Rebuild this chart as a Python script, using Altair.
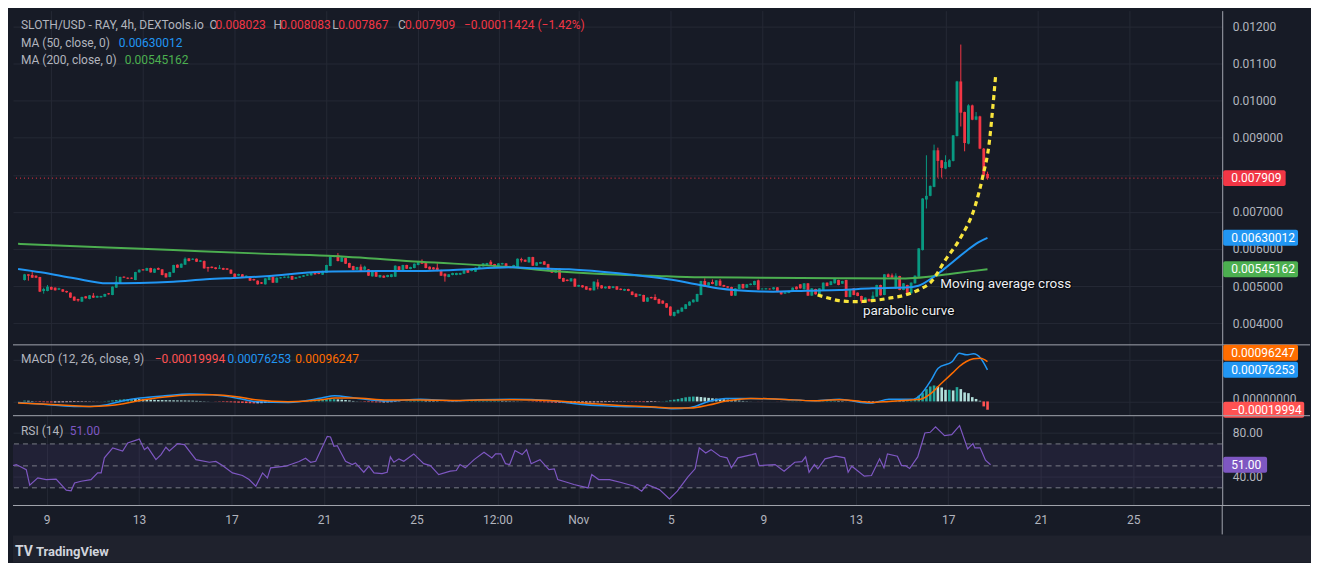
import altair as alt
import pandas as pd

# ---------------------------------------------------------------------------
# DATA  (prices are given in millionths of a US dollar: 5164 -> 0.005164)
# time axis: day of October (Nov 1 == 32), one candle every 4 hours
# ---------------------------------------------------------------------------
FIRST_CANDLE_DAY = 7 + 5 / 6
CANDLE_STEP = 1 / 6

opens_u = [
    5164, 5317, 5299, 5281, 5245, 4869, 4869, 4976, 4958, 4905,
    4914, 4869, 4824, 4716, 4654, 4582, 4725, 4654, 4743, 4690,
    4698, 4716, 4806, 4761, 4958, 5075, 5254, 5227, 5227, 5164,
    5370, 5451, 5415, 5487, 5361, 5487, 5451, 5344, 5245, 5361,
    5577, 5496, 5577, 5747, 5711, 5738, 5657, 5675, 5514, 5523,
    5505, 5469, 5487, 5478, 5442, 5335, 5281, 5317, 5245, 5254,
    5191, 5146, 5102, 5048, 5164, 5254, 5093, 5209, 5227, 5227,
    5272, 5200, 5227, 5254, 5281, 5290, 5370, 5361, 5308, 5361,
    5541, 5783, 5836, 5657, 5756, 5621, 5541, 5442, 5523, 5442,
    5451, 5263, 5424, 5236, 5281, 5245, 5245, 5254, 5532, 5415,
    5568, 5460, 5487, 5568, 5675, 5621, 5523, 5505, 5496, 5433,
    5335, 5245, 5299, 5299, 5308, 5335, 5442, 5406, 5388, 5487,
    5532, 5550, 5657, 5594, 5514, 5585, 5612, 5541, 5514, 5514,
    5729, 5711, 5639, 5783, 5550, 5603, 5666, 5594, 5469, 5361,
    5469, 5218, 5173, 5128, 5200, 4985, 5021, 4994, 4949, 4887,
    5102, 5021, 4940, 5003, 4949, 4994, 4931, 4878, 4922, 4851,
    4797, 4743, 4761, 4582, 4707, 4707, 4654, 4609, 4537, 4448,
    4197, 4268, 4313, 4385, 4475, 4564, 4582, 4761, 5137, 5012,
    5111, 5012, 5146, 5030, 4994, 4976, 4743, 4922, 5057, 4958,
    5030, 5030, 5155, 4914, 4914, 4931, 4914, 4967, 4851, 4797,
    4815, 4851, 4985, 5048, 4914, 5075, 4743, 4922, 4743, 4896,
    5093, 5030, 5075, 5164, 5066, 5164, 4707, 4940, 4824, 4734,
    4582, 4654, 4636, 4716, 5030, 4761, 5317, 5290, 4940, 5272,
    4896, 5030, 4806, 5075, 5254, 5971, 7333, 7432, 7674, 8659,
    8390, 8166, 8211, 8373, 9044, 10514, 9690, 8838, 9869, 9483,
    9573, 8704, 8023,
]
highs_u = [
    5330, 5320, 5406, 5290, 5250, 4958, 5030, 4990, 4965, 4955,
    4920, 4875, 4830, 4720, 4660, 4715, 4735, 4760, 4815, 4745,
    4740, 4795, 4815, 4990, 5272, 5255, 5265, 5235, 5235, 5385,
    5450, 5460, 5495, 5495, 5475, 5500, 5460, 5350, 5385, 5575,
    5585, 5610, 5774, 5755, 5750, 5745, 5700, 5690, 5520, 5530,
    5512, 5568, 5495, 5485, 5450, 5342, 5333, 5325, 5290, 5262,
    5200, 5155, 5110, 5215, 5262, 5260, 5235, 5245, 5262, 5290,
    5280, 5245, 5270, 5298, 5325, 5370, 5378, 5368, 5415, 5575,
    5800, 5830, 5890, 5782, 5763, 5630, 5548, 5520, 5585, 5550,
    5458, 5432, 5432, 5306, 5290, 5306, 5324, 5558, 5540, 5575,
    5575, 5522, 5610, 5665, 5720, 5628, 5530, 5512, 5612, 5440,
    5342, 5324, 5360, 5360, 5360, 5432, 5450, 5458, 5503, 5540,
    5620, 5628, 5702, 5600, 5620, 5628, 5620, 5548, 5575, 5745,
    5765, 5718, 5790, 5790, 5646, 5655, 5673, 5600, 5476, 5476,
    5476, 5225, 5180, 5216, 5207, 5037, 5028, 5000, 4956, 5127,
    5182, 5028, 4992, 5010, 5001, 5001, 4938, 4929, 4929, 4858,
    4804, 4786, 4768, 4697, 4714, 4779, 4661, 4616, 4544, 4455,
    4311, 4365, 4428, 4517, 4589, 4643, 4795, 5144, 5209, 5109,
    5180, 5162, 5190, 5037, 5001, 4983, 4947, 5055, 5064, 5055,
    5073, 5144, 5175, 4945, 4950, 4940, 4975, 4975, 4858, 4840,
    4876, 4965, 4992, 5055, 5082, 5082, 4947, 4929, 4947, 5100,
    5100, 5135, 5198, 5171, 5144, 5171, 4912, 4947, 4831, 4741,
    4697, 4661, 4851, 5037, 5037, 5324, 5340, 5340, 5344, 5279,
    5082, 5037, 5100, 5288, 6023, 7370, 8525, 7710, 8812, 8731,
    8400, 8525, 8420, 9070, 10530, 11508, 9700, 9900, 9890, 9690,
    9590, 8720, 8083,
]
lows_u = [
    5150, 5146, 5220, 5215, 4840, 4797, 4860, 4895, 4880, 4895,
    4840, 4820, 4680, 4600, 4580, 4575, 4665, 4645, 4680, 4685,
    4690, 4710, 4770, 4755, 4950, 5070, 5220, 5190, 5195, 5160,
    5365, 5418, 5410, 5365, 5355, 5435, 5290, 5228, 5240, 5355,
    5490, 5490, 5570, 5668, 5705, 5650, 5650, 5470, 5388, 5480,
    5452, 5462, 5435, 5435, 5328, 5238, 5275, 5238, 5240, 5140,
    5148, 5040, 5058, 5040, 5158, 5085, 5088, 5200, 5220, 5209,
    5165, 5194, 5220, 5248, 5275, 5284, 5310, 5320, 5300, 5355,
    5535, 5776, 5668, 5650, 5596, 5490, 5426, 5436, 5400, 5436,
    5274, 5256, 5247, 5228, 5220, 5238, 5238, 5247, 5400, 5408,
    5462, 5453, 5480, 5560, 5596, 5480, 5444, 5444, 5400, 5274,
    5120, 5238, 5292, 5292, 5300, 5328, 5354, 5400, 5380, 5480,
    5525, 5543, 5570, 5516, 5507, 5578, 5498, 5489, 5507, 5507,
    5639, 5650, 5632, 5543, 5543, 5596, 5570, 5417, 5354, 5354,
    5193, 5113, 5130, 5121, 4978, 4978, 4960, 4898, 4880, 4880,
    4914, 4933, 4933, 4924, 4942, 4898, 4889, 4871, 4862, 4754,
    4700, 4736, 4575, 4575, 4665, 4620, 4521, 4521, 4414, 4190,
    4180, 4260, 4306, 4378, 4468, 4557, 4575, 4754, 4978, 5005,
    5050, 5005, 5005, 4978, 4951, 4736, 4736, 4915, 4933, 4951,
    5023, 5023, 4898, 4905, 4905, 4905, 4905, 4835, 4772, 4790,
    4808, 4844, 4907, 4933, 4907, 4736, 4736, 4772, 4736, 4889,
    4996, 5023, 5068, 5023, 5059, 4700, 4700, 4754, 4727, 4537,
    4575, 4584, 4582, 4709, 4745, 4754, 5238, 5220, 4933, 4889,
    4889, 4754, 4799, 5068, 5247, 5960, 7091, 7420, 7664, 7924,
    7924, 8150, 8200, 8360, 9030, 9300, 8632, 8820, 9470, 9470,
    8690, 7970, 7867,
]
closes_u = [
    5317, 5281, 5227, 5227, 4851, 4922, 4985, 4905, 4887, 4940,
    4851, 4833, 4690, 4609, 4609, 4707, 4672, 4752, 4690, 4734,
    4734, 4788, 4779, 4985, 5120, 5245, 5227, 5200, 5200, 5379,
    5442, 5424, 5487, 5370, 5469, 5442, 5299, 5236, 5379, 5568,
    5496, 5603, 5738, 5675, 5738, 5657, 5693, 5478, 5478, 5487,
    5460, 5496, 5442, 5442, 5335, 5245, 5326, 5245, 5281, 5146,
    5155, 5048, 5066, 5209, 5254, 5093, 5227, 5236, 5254, 5254,
    5173, 5236, 5263, 5290, 5317, 5361, 5317, 5326, 5406, 5568,
    5792, 5818, 5675, 5774, 5603, 5496, 5433, 5514, 5406, 5523,
    5281, 5424, 5254, 5299, 5227, 5299, 5317, 5550, 5406, 5568,
    5469, 5514, 5603, 5657, 5603, 5487, 5451, 5451, 5406, 5281,
    5263, 5317, 5353, 5353, 5353, 5424, 5361, 5451, 5496, 5532,
    5612, 5621, 5577, 5523, 5612, 5621, 5505, 5496, 5568, 5738,
    5693, 5657, 5783, 5550, 5639, 5648, 5577, 5424, 5361, 5469,
    5200, 5120, 5137, 5209, 4985, 5030, 4967, 4905, 4887, 5120,
    4985, 4940, 4985, 4931, 4994, 4905, 4896, 4922, 4869, 4761,
    4707, 4779, 4582, 4690, 4672, 4627, 4528, 4528, 4421, 4206,
    4304, 4358, 4421, 4510, 4582, 4636, 4788, 5137, 4985, 5102,
    5057, 5155, 5012, 4985, 4958, 4743, 4940, 5048, 4940, 5048,
    5066, 5137, 4905, 4931, 4940, 4914, 4967, 4842, 4779, 4833,
    4869, 4958, 4914, 4940, 5075, 4743, 4940, 4779, 4940, 5093,
    5003, 5128, 5191, 5030, 5137, 4707, 4905, 4761, 4734, 4591,
    4690, 4591, 4743, 5030, 4752, 5317, 5245, 5227, 5281, 4896,
    5075, 4761, 5093, 5281, 6016, 7360, 7432, 7700, 8659, 8373,
    8184, 8346, 8390, 9062, 10514, 9672, 8856, 9869, 9483, 9573,
    8704, 7987, 7909,
]

# moving averages
ma50_days = [7.55, 8.54, 10.01, 11.43, 12.85, 14.32, 15.75, 17.17, 18.34, 20.80,
             23.64, 25.11, 26.53, 29.12, 30.12, 31.58, 33.00, 34.43, 35.90, 36.77,
             38.06, 39.92, 40.47, 41.94, 43.37, 44.80, 46.26, 46.82, 47.42, 48.14,
             48.85, 49.43, 49.83]
ma50_u = [5460, 5371, 5210, 5075, 5084, 5119, 5183, 5226, 5264, 5387,
          5406, 5410, 5433, 5506, 5479, 5452, 5387, 5299, 5183, 5092,
          4941, 4855, 4850, 4877, 4896, 4941, 4960, 5010, 5220, 5560,
          5920, 6180, 6300]
ma200_days = [7.55, 11.43, 14.32, 17.90, 21.06, 25.11, 29.12, 30.85, 33.00, 35.16,
              37.32, 39.92, 43.37, 46.26, 47.25, 48.12, 48.98, 49.83]
ma200_u = [6140, 6043, 5971, 5882, 5818, 5656, 5506, 5406, 5326, 5280,
           5237, 5226, 5210, 5205, 5250, 5320, 5390, 5452]

# MACD (12, 26, 9) in millionths
macd_days = [7.55, 8.55, 9.99, 10.71, 11.43, 12.15, 12.87, 13.95, 15.02, 16.03,
             17.18, 17.9, 19.34, 20.78, 21.36, 22.22, 23.66, 25.1, 26.53, 27.64,
             29.19, 30.7, 32.27, 33.81, 35.35, 36.12, 36.89, 37.67, 38.43, 39.51,
             40.75, 42.29, 43.37, 44.3, 44.75, 45.53, 46.61, 46.91, 47.38, 47.68,
             48.3, 48.6, 48.91, 49.22, 49.53, 49.83]
macd_u = [-24, -63, -120, -120, -80, 17, 82, 137, 178, 161,
          72, -7, -24, 82, 137, 82, 8, 55, 17, 41,
          55, 25, -80, -120, -144, -176, -144, 0, 72, 72,
          55, 17, 55, -24, -40, 55, 55, 161, 522, 802,
          963, 1163, 1123, 1147, 1043, 762]
signal_u = [-40, -63, -104, -120, -104, -55, 25, 105, 153, 161,
            105, 40, -7, 40, 82, 82, 32, 32, 25, 32,
            41, 25, -40, -96, -136, -160, -160, -88, 8, 72,
            55, 17, 41, 0, -24, 0, 41, 55, 200, 361,
            682, 843, 963, 1027, 1043, 962]
hist_u = [
    20, 16, 10,
    -8, -14, -18, -22, -24, -24, -22, -20, -18, -16, -14,
    -12, -10, -8, -6, -4, -2, 2, 6,
    14, 24, 34, 44, 52, 56, 58, 57,
    54, 50, 46, 42, 38, 34, 32, 30, 28, 26, 25,
    24, 22, 20, 18, 14, 10, 6, 3, 0,
    -4, -8, -12, -16, -20, -25, -30, -35, -40, -44, -47,
    -45, -42, -38, -34, -30, -26, -22, -18,
    -14, -8, -2, 6, 14, 22, 30, 36,
    42, 48, 52, 55, 55, 50, 42, 34, 24,
    12, 4, -4, -10, -15, -19, -22, -24, -24,
    -22, -18, -12, -6, 0, 6, 12, 18,
    23, 24, 22, 18, 14, 8, 2, -4, -8,
    -8, -6, -2, 2, 5, 8, 9, 10, 11,
    12, 13, 14, 14, 12, 10, 8, 6, 4, 2,
    0, -4, -8, -12, -16, -20, -24, -28, -32, -36,
    -40, -42, -40, -36, -32, -28, -26, -24, -22, -20,
    -18, -16, -14, -12, -10, -8, -8, -9, -10, -12,
    -14, -16, -16, -14, -10, -4, 4, 14, 28, 44,
    60, 80, 100, 112, 118, 114, 106, 96, 86, 76,
    68, 60, 52, 44, 36, 28, 20, 12, 6, 2,
    0, -2, -2, 0, 1, 0, -2, -2, 0, 2,
    4, 4, 2, 0, 0, 2, 4, 6, 8, 10,
    12, 14, 12, 8, 2, -4, -10, -16, -22, -24,
    -18, -12, -6, 0, 6, 12, 16, 18, 16, 14, 14, 20,
    56, 136, 200, 297, 361, 385, 361, 337, 281, 281,
    265, 345, 297, 217, 200, 104, 60, 16, -120, -200,
]

# RSI (14)
rsi_days = [7.55, 7.69, 8.12, 8.27, 8.62, 8.98, 9.41, 9.85, 10.06, 10.21,
            10.49, 10.92, 11.21, 11.36, 11.5, 11.86, 12.29, 12.51, 12.94, 13.01,
            13.23, 13.37, 13.73, 13.95, 14.16, 14.31, 14.67, 14.96, 15.46, 16.04,
            16.32, 16.61, 17.04, 17.47, 17.76, 18.05, 18.34, 18.55, 18.69, 19.34,
            19.92, 20.2, 20.42, 20.64, 21.14, 21.28, 21.43, 21.57, 21.93, 22.22,
            22.36, 22.72, 22.94, 23.16, 23.51, 23.73, 23.87, 24.02, 24.24, 24.45,
            24.88, 25.31, 25.6, 25.96, 26.46, 26.72, 26.88, 27.11, 27.49, 27.92,
            28.26, 28.42, 28.65, 28.85, 29.03, 29.26, 29.57, 29.76, 29.96, 30.34,
            30.73, 30.96, 31.11, 31.5, 31.81, 32.42, 32.58, 32.88, 33.35, 33.81,
            34.43, 34.74, 34.97, 35.51, 35.94, 36.28, 36.74, 37.05, 37.23, 37.51,
            37.74, 38.13, 38.43, 38.62, 38.9, 39.51, 39.67, 39.82, 40.51, 40.9,
            41.36, 41.67, 41.83, 41.98, 42.21, 42.36, 42.67, 43.14, 43.52, 43.67,
            43.83, 44.37, 44.68, 45.03, 45.22, 45.37, 45.8, 45.98, 46.14, 46.33,
            46.68, 46.99, 47.22, 47.45, 47.84, 48.15, 48.49, 48.84, 49.07, 49.15,
            49.38, 49.61, 49.83]
rsi_vals = [50.3, 51.2, 46.6, 32.4, 39.1, 37.5, 38.0, 27.9, 27.3, 34.5,
            36.0, 37.5, 43.6, 43.6, 57.3, 66.4, 63.6, 70.9, 73.9, 74.5,
            64.8, 67.0, 55.7, 60.3, 67.0, 63.6, 70.3, 69.4, 55.7, 53.3,
            54.0, 50.3, 43.6, 41.2, 37.5, 31.5, 43.6, 39.1, 48.2, 49.7,
            54.0, 57.0, 53.3, 54.2, 76.9, 76.3, 67.9, 68.5, 54.2, 51.2,
            52.7, 44.2, 49.7, 43.6, 43.0, 44.2, 58.2, 53.3, 56.4, 54.2,
            60.9, 52.0, 50.3, 42.1, 45.2, 45.8, 51.2, 48.2, 55.7, 62.4,
            57.3, 60.9, 60.9, 52.0, 51.2, 64.0, 60.3, 64.8, 52.0, 55.7,
            46.6, 47.3, 37.5, 35.1, 33.0, 29.9, 42.1, 37.5, 37.5, 35.1,
            31.5, 26.9, 33.0, 28.4, 19.9, 26.9, 40.0, 47.3, 66.4, 61.8,
            64.8, 58.8, 57.3, 48.2, 57.3, 60.3, 61.2, 50.3, 51.2, 45.2,
            53.3, 53.9, 58.2, 44.2, 51.2, 47.3, 56.4, 58.8, 57.3, 44.2,
            49.7, 40.6, 41.2, 56.4, 48.2, 60.9, 58.8, 50.3, 50.3, 47.6,
            58.2, 80.0, 80.6, 85.5, 77.6, 78.5, 86.7, 65.5, 70.3, 66.4,
            66.4, 55.2, 51.0]
rsi_levels = [70, 50, 30]
rsi_ticks = [40, 80]

# hand-drawn parabolic curve
para_days = [42.42, 42.93, 43.36, 44.10, 44.79, 45.52, 46.26, 46.82, 47.38, 47.99,
             48.68, 49.28, 49.62, 49.92, 50.05, 50.18]
para_u = [4761, 4672, 4608, 4581, 4608, 4672, 4761, 4896, 5119, 5702,
          6328, 7135, 7941, 8928, 9734, 10629]

note_texts = ["Moving average cross", "parabolic curve"]
note_days = [47.77, 44.40]
note_u = [5057, 4331]

tick_days = [9, 13, 17, 21, 25, 28.5, 32, 36, 40, 44, 48, 52, 56]
tick_labels = ["9", "13", "17", "21", "25", "12:00", "Nov", "5", "9", "13", "17", "21", "25"]
price_ticks = [0.004, 0.005, 0.006, 0.007, 0.008, 0.009, 0.010, 0.011, 0.012]
price_hidden_label = 0.008          # covered by the last-price tag in the original
macd_ticks = [0.0, 0.001]
macd_hidden_label = 0.001           # covered by the MACD tags in the original

price_tag_values = [0.007909, 0.00630012, 0.00545162]
price_tag_texts = ["0.007909", "0.00630012", "0.00545162"]
macd_tag_values = [0.00096247, 0.00076253, -0.00019994]
macd_tag_texts = ["0.00096247", "0.00076253", "\u22120.00019994"]
rsi_tag_values = [51.0]
rsi_tag_texts = ["51.00"]

# ---------------------------------------------------------------------------
# STYLE
# ---------------------------------------------------------------------------
FONT = "Roboto"
BG = "#171b26"
FRAME = "#1f222d"
GRID = "#252935"
LABEL = "#b2b5be"
BORDER = "#a3a6af"
UP, DOWN = "#089981", "#f23645"
BLUE, GREEN, ORANGE, PURPLE = "#2196f3", "#4caf50", "#ff6d00", "#7e57c2"
W = 1212
H_PRICE, H_MACD, H_RSI = 335, 71, 90
U = 1e-6

X_DOMAIN = [7.546, 59.85]
PRICE_DOMAIN = [0.003417, 0.012422]
MACD_DOMAIN = [-0.000344, 0.001364]
RSI_DOMAIN = [13.9, 95.73]

xs = alt.Scale(domain=X_DOMAIN, nice=False, zero=False)
ps = alt.Scale(domain=PRICE_DOMAIN, nice=False, zero=False)
ms = alt.Scale(domain=MACD_DOMAIN, nice=False, zero=False)
rs = alt.Scale(domain=RSI_DOMAIN, nice=False, zero=False)


def label_expr(vals, labs):
    expr = "''"
    for v, l in reversed(list(zip(vals, labs))):
        expr = f"abs(datum.value - {v}) < 0.01 ? '{l}' : ({expr})"
    return expr


def x_axis(labels):
    if not labels:
        return alt.Axis(values=tick_days, grid=True, gridColor=GRID, ticks=False, domain=False,
                        labels=False, labelPadding=0, minExtent=0, maxExtent=0, title=None)
    return alt.Axis(values=tick_days, grid=True, gridColor=GRID, ticks=False, domain=False,
                    labels=True, labelExpr=label_expr(tick_days, tick_labels),
                    labelColor=LABEL, labelFont=FONT, labelFontSize=12, labelPadding=9,
                    labelFlush=False, labelOverlap=False, title=None)


def y_axis(values, fmt, hidden=None, label_offset=0):
    extra = {}
    if hidden is not None:
        extra["labelExpr"] = f"abs(datum.value - {hidden}) < 1e-9 ? '' : datum.label"
    return alt.Axis(orient="right", values=values, format=fmt, grid=True, gridColor=GRID,
                    ticks=False, domain=True, domainColor=BORDER, labelColor=LABEL,
                    labelFont=FONT, labelFontSize=12, labelPadding=10, labelFlush=False,
                    labelOverlap=False, labelOffset=label_offset, title=None, **extra)


def text(s, x, y, color=LABEL, size=12, weight="normal"):
    return alt.Chart(pd.DataFrame({"s": [s]})).mark_text(
        align="left", baseline="middle", font=FONT, fontSize=size, fontWeight=weight, color=color
    ).encode(x=alt.value(x), y=alt.value(y), text="s:N")


def tags(values, texts, colors, domain, height, Y):
    d0, d1 = domain
    px = [height * (1 - (v - d0) / (d1 - d0)) for v in values]
    moved = list(px)
    last = None
    for i in sorted(range(len(px)), key=lambda k: -px[k]):
        if last is not None and moved[i] > last - 17:
            moved[i] = last - 17
        last = moved[i]
    out = []
    for v, t, c, p0, p1 in zip(values, texts, colors, px, moved):
        off = p1 - p0
        df = pd.DataFrame({"v": [v], "t": [t]})
        w = 13 + 6.2 * len(t)
        out.append(alt.Chart(df).mark_rect(color=c, cornerRadius=2, yOffset=off - 8, y2Offset=off + 8)
                   .encode(x=alt.value(W + 1), x2=alt.value(W + 1 + w), y=Y("v"), y2="v:Q"))
        out.append(alt.Chart(df).mark_text(align="left", baseline="middle", font=FONT, fontSize=12,
                                           color="#ffffff", dy=off)
                   .encode(x=alt.value(W + 9), y=Y("v"), text="t:N"))
    return out


def sep_rule(y):
    return alt.Chart(pd.DataFrame({"a": [0]})).mark_rule(color=BORDER, strokeWidth=1).encode(
        x=alt.value(0), x2=alt.value(W + 88), y=alt.value(y))


# one identical axis definition per panel, repeated on every layer that uses the scale
X_HIDDEN = x_axis(False)
X_SHOWN = x_axis(True)
PY_AXIS = y_axis(price_ticks, ".4r", price_hidden_label)
MY_AXIS = y_axis(macd_ticks, ".8f", macd_hidden_label, label_offset=-3)
RY_AXIS = y_axis(rsi_ticks, ".2f")


def XP(f):
    return alt.X(f + ":Q", scale=xs, axis=X_HIDDEN)


def XR(f):
    return alt.X(f + ":Q", scale=xs, axis=X_SHOWN)


def YP(f):
    return alt.Y(f + ":Q", scale=ps, axis=PY_AXIS)


def YM(f):
    return alt.Y(f + ":Q", scale=ms, axis=MY_AXIS)


def YR(f):
    return alt.Y(f + ":Q", scale=rs, axis=RY_AXIS)


# ---------------------------------------------------------------------------
# FRAMES
# ---------------------------------------------------------------------------
n = min(len(opens_u), len(highs_u), len(lows_u), len(closes_u))
candles = pd.DataFrame({
    "t": [FIRST_CANDLE_DAY + i * CANDLE_STEP for i in range(n)],
    "o": [v * U for v in opens_u[:n]],
    "h": [v * U for v in highs_u[:n]],
    "l": [v * U for v in lows_u[:n]],
    "c": [v * U for v in closes_u[:n]],
})
candles["col"] = [UP if c >= o else DOWN for o, c in zip(candles["o"], candles["c"])]

hn = min(n, len(hist_u))
hcol, prev = [], 0
for v in hist_u[:hn]:
    if v >= 0:
        hcol.append("#26a69a" if v >= prev else "#b2dfdb")
    else:
        hcol.append("#ff5252" if v < prev else "#ffcdd2")
    prev = v
hist = pd.DataFrame({"t": [FIRST_CANDLE_DAY + i * CANDLE_STEP for i in range(hn)],
                     "v": [v * U for v in hist_u[:hn]], "zero": [0.0] * hn, "col": hcol})

ma50 = pd.DataFrame({"t": ma50_days, "v": [v * U for v in ma50_u]})
ma200 = pd.DataFrame({"t": ma200_days, "v": [v * U for v in ma200_u]})
macd = pd.DataFrame({"t": macd_days, "m": [v * U for v in macd_u], "s": [v * U for v in signal_u]})
rsi = pd.DataFrame({"t": rsi_days[:len(rsi_vals)], "v": rsi_vals[:len(rsi_days)]})
para = pd.DataFrame({"t": para_days, "v": [v * U for v in para_u]})
notes = pd.DataFrame({"t": note_days, "v": [v * U for v in note_u], "s": note_texts})
last_px = pd.DataFrame({"v": [closes_u[n - 1] * U]})

# ---------------------------------------------------------------------------
# PRICE PANEL
# ---------------------------------------------------------------------------
price_layers = [
    alt.Chart(candles).mark_rule(strokeWidth=1).encode(
        x=XP("t"), y=YP("l"), y2="h:Q", color=alt.Color("col:N", scale=None)),
    alt.Chart(candles).mark_bar(size=2.8).encode(
        x=XP("t"), y=YP("o"), y2="c:Q", color=alt.Color("col:N", scale=None)),
    alt.Chart(last_px).mark_rule(color=DOWN, strokeDash=[1, 3], strokeWidth=1).encode(y=YP("v")),
    alt.Chart(ma200).mark_line(color=GREEN, strokeWidth=2, interpolate="monotone").encode(
        x=XP("t"), y=YP("v")),
    alt.Chart(ma50).mark_line(color=BLUE, strokeWidth=2, interpolate="monotone").encode(
        x=XP("t"), y=YP("v")),
    alt.Chart(para).mark_line(color="#f9e53c", strokeWidth=3.2, strokeDash=[5, 4],
                              interpolate="monotone").encode(x=XP("t"), y=YP("v")),
    alt.Chart(notes).mark_text(align="left", baseline="middle", font=FONT, fontSize=13.5,
                               color="#0b0d12", stroke="#0b0d12", strokeWidth=2.5).encode(
        x=XP("t"), y=YP("v"), text="s:N"),
    alt.Chart(notes).mark_text(align="left", baseline="middle", font=FONT, fontSize=13.5,
                               color="#eceff4").encode(x=XP("t"), y=YP("v"), text="s:N"),
    text("SLOTH/USD - RAY, 4h, DEXTools.io", 8, 14),
    text("O", 197, 14), text("0.008023", 203, 14, DOWN),
    text("H", 261, 14), text("0.008083", 268, 14, DOWN),
    text("L", 320, 14), text("0.007867", 326, 14, DOWN),
    text("C", 386, 14), text("0.007909", 393, 14, DOWN),
    text("\u22120.00011424 (\u22121.42%)", 452, 14, DOWN),
    text("MA (50, close, 0)", 8, 32), text("0.00630012", 106, 32, BLUE),
    text("MA (200, close, 0)", 8, 49.5), text("0.00545162", 112, 49.5, GREEN),
] + tags(price_tag_values, price_tag_texts, [DOWN, BLUE, GREEN], PRICE_DOMAIN, H_PRICE, YP)

price = alt.layer(*price_layers).properties(width=W, height=H_PRICE)

# ---------------------------------------------------------------------------
# MACD PANEL
# ---------------------------------------------------------------------------
macd_layers = [
    alt.Chart(hist).mark_bar(size=2.6).encode(
        x=XP("t"), y=YM("v"), y2="zero:Q", color=alt.Color("col:N", scale=None)),
    alt.Chart(macd).mark_line(color=BLUE, strokeWidth=1.5, interpolate="monotone").encode(
        x=XP("t"), y=YM("m")),
    alt.Chart(macd).mark_line(color=ORANGE, strokeWidth=1.5, interpolate="monotone").encode(
        x=XP("t"), y=YM("s")),
    sep_rule(0),
    text("MACD (12, 26, close, 9)", 8, 14),
    text("\u22120.00019994", 142, 14, "#ff5252"),
    text("0.00076253", 215, 14, BLUE),
    text("0.00096247", 283, 14, ORANGE),
] + tags(macd_tag_values, macd_tag_texts, [ORANGE, BLUE, "#ff5252"], MACD_DOMAIN, H_MACD, YM)

macd_panel = alt.layer(*macd_layers).properties(width=W, height=H_MACD)

# ---------------------------------------------------------------------------
# RSI PANEL
# ---------------------------------------------------------------------------
band = pd.DataFrame({"hi": [rsi_levels[0]], "lo": [rsi_levels[-1]]})
levels = pd.DataFrame({"v": rsi_levels})
rsi_layers = [
    alt.Chart(band).mark_rect(color=PURPLE, opacity=0.1).encode(
        x=alt.value(0), x2=alt.value(W), y=YR("hi"), y2="lo:Q"),
    alt.Chart(levels).mark_rule(color="#787b86", strokeDash=[5, 4], strokeWidth=1).encode(y=YR("v")),
    alt.Chart(rsi).mark_line(color=PURPLE, strokeWidth=1.2).encode(x=XR("t"), y=YR("v")),
    sep_rule(0),
    sep_rule(H_RSI),
    alt.Chart(pd.DataFrame({"a": [0]})).mark_rule(color=BORDER).encode(
        x=alt.value(W), y=alt.value(H_RSI), y2=alt.value(H_RSI + 29)),
    alt.Chart(pd.DataFrame({"a": [0]})).mark_rect(color=FRAME).encode(
        x=alt.value(0), x2=alt.value(W + 89), y=alt.value(H_RSI + 30), y2=alt.value(H_RSI + 57)),
    text("RSI (14)", 8, 15),
    text("51.00", 57, 15, PURPLE),
    text("TV", 2, 137, "#d1d4dc", 14, "bold"),
    text("TradingView", 23, 137, "#d1d4dc", 13, "bold"),
] + tags(rsi_tag_values, rsi_tag_texts, [PURPLE], RSI_DOMAIN, H_RSI, YR)

rsi_panel = alt.layer(*rsi_layers).properties(width=W, height=H_RSI)

chart = (
    alt.vconcat(price, macd_panel, rsi_panel, spacing=0, bounds="flush")
    .properties(padding={"left": 2, "top": 2, "right": 0, "bottom": 0}, background=BG)
    .configure_view(stroke=None)
)

chart.save("out.html", embed_options={"renderer": "svg", "actions": False})
